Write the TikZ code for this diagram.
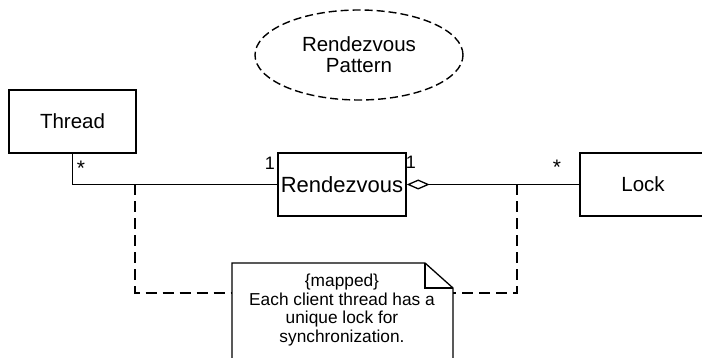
\documentclass[tikz,border=0pt]{standalone}
\usepackage{fontspec}
\setmainfont{Liberation Sans}
\usetikzlibrary{shapes.geometric,arrows.meta}
\begin{document}
\begin{tikzpicture}[x=1pt,y=-1pt,
  umlbox/.style={draw,line width=1.4pt,inner sep=0pt,minimum height=63pt,font=\fontsize{20.5}{22}\selectfont},
  mult/.style={inner sep=0pt,font=\fontsize{18}{20}\selectfont},
  star/.style={inner sep=0pt,font=\fontsize{21}{22}\selectfont},
  link/.style={line width=1.4pt},
  anchorline/.style={line width=1.5pt,dash pattern=on 11pt off 6pt},
  notetxt/.style={align=center,inner sep=0pt,font=\fontsize{17.3}{18.7}\selectfont}]
\fill[white] (0,0) rectangle (702,358);
\useasboundingbox (0,0) rectangle (702,358);

% title ellipse
\node[ellipse,draw,line width=1.4pt,dash pattern=on 8pt off 4pt,minimum width=208pt,minimum height=90pt,inner sep=0pt,align=center,font=\fontsize{20.5}{21}\selectfont] (pattern) at (359,55) {Rendezvous\\Pattern};

% classes
\node[umlbox,minimum width=127pt,minimum height=63pt] (thread) at (72.5,121.5) {Thread};
\node[umlbox,minimum width=128pt,font=\fontsize{22}{24}\selectfont] (rdv) at (342,184.5) {Rendezvous};
\node[umlbox,minimum width=126pt] (lock) at (643,184.5) {Lock};

% associations
\draw[link] (thread.south) |- (rdv.west);
\draw[link,{Diamond[open,fill=white,length=23pt,width=10pt,line width=1.3pt]}-] (rdv.east) -- (lock.west);

% multiplicities
\node[star] (m1) at (81,168) {*};
\node[mult] (m2) at (270,163) {1};
\node[mult] (m3) at (411,162) {1};
\node[star] (m4) at (557,167) {*};

% note
\coordinate (ntl) at (232,263);
\coordinate (nf1) at (425,263);
\coordinate (nf2) at (453,288);
\coordinate (nbr) at (453,380);
\coordinate (nbl) at (232,380);
\draw[line width=1.3pt,fill=white] (ntl) -- (nf1) -- (nf2) -- (nbr) -- (nbl) -- cycle;
\draw[line width=1.1pt] (nf1) |- (nf2);
\node[notetxt] (notetext) at (342,310) {\{mapped\}\\Each client thread has a\\unique lock for\\synchronization.};

% anchor lines
\coordinate (j1) at (135,184.5);
\coordinate (j2) at (517,184.5);
\coordinate (n1) at (232,293);
\coordinate (n2) at (453,293);
\draw[anchorline] (j1) |- (n1);
\draw[anchorline] (j2) |- (n2);
\end{tikzpicture}
\end{document}
